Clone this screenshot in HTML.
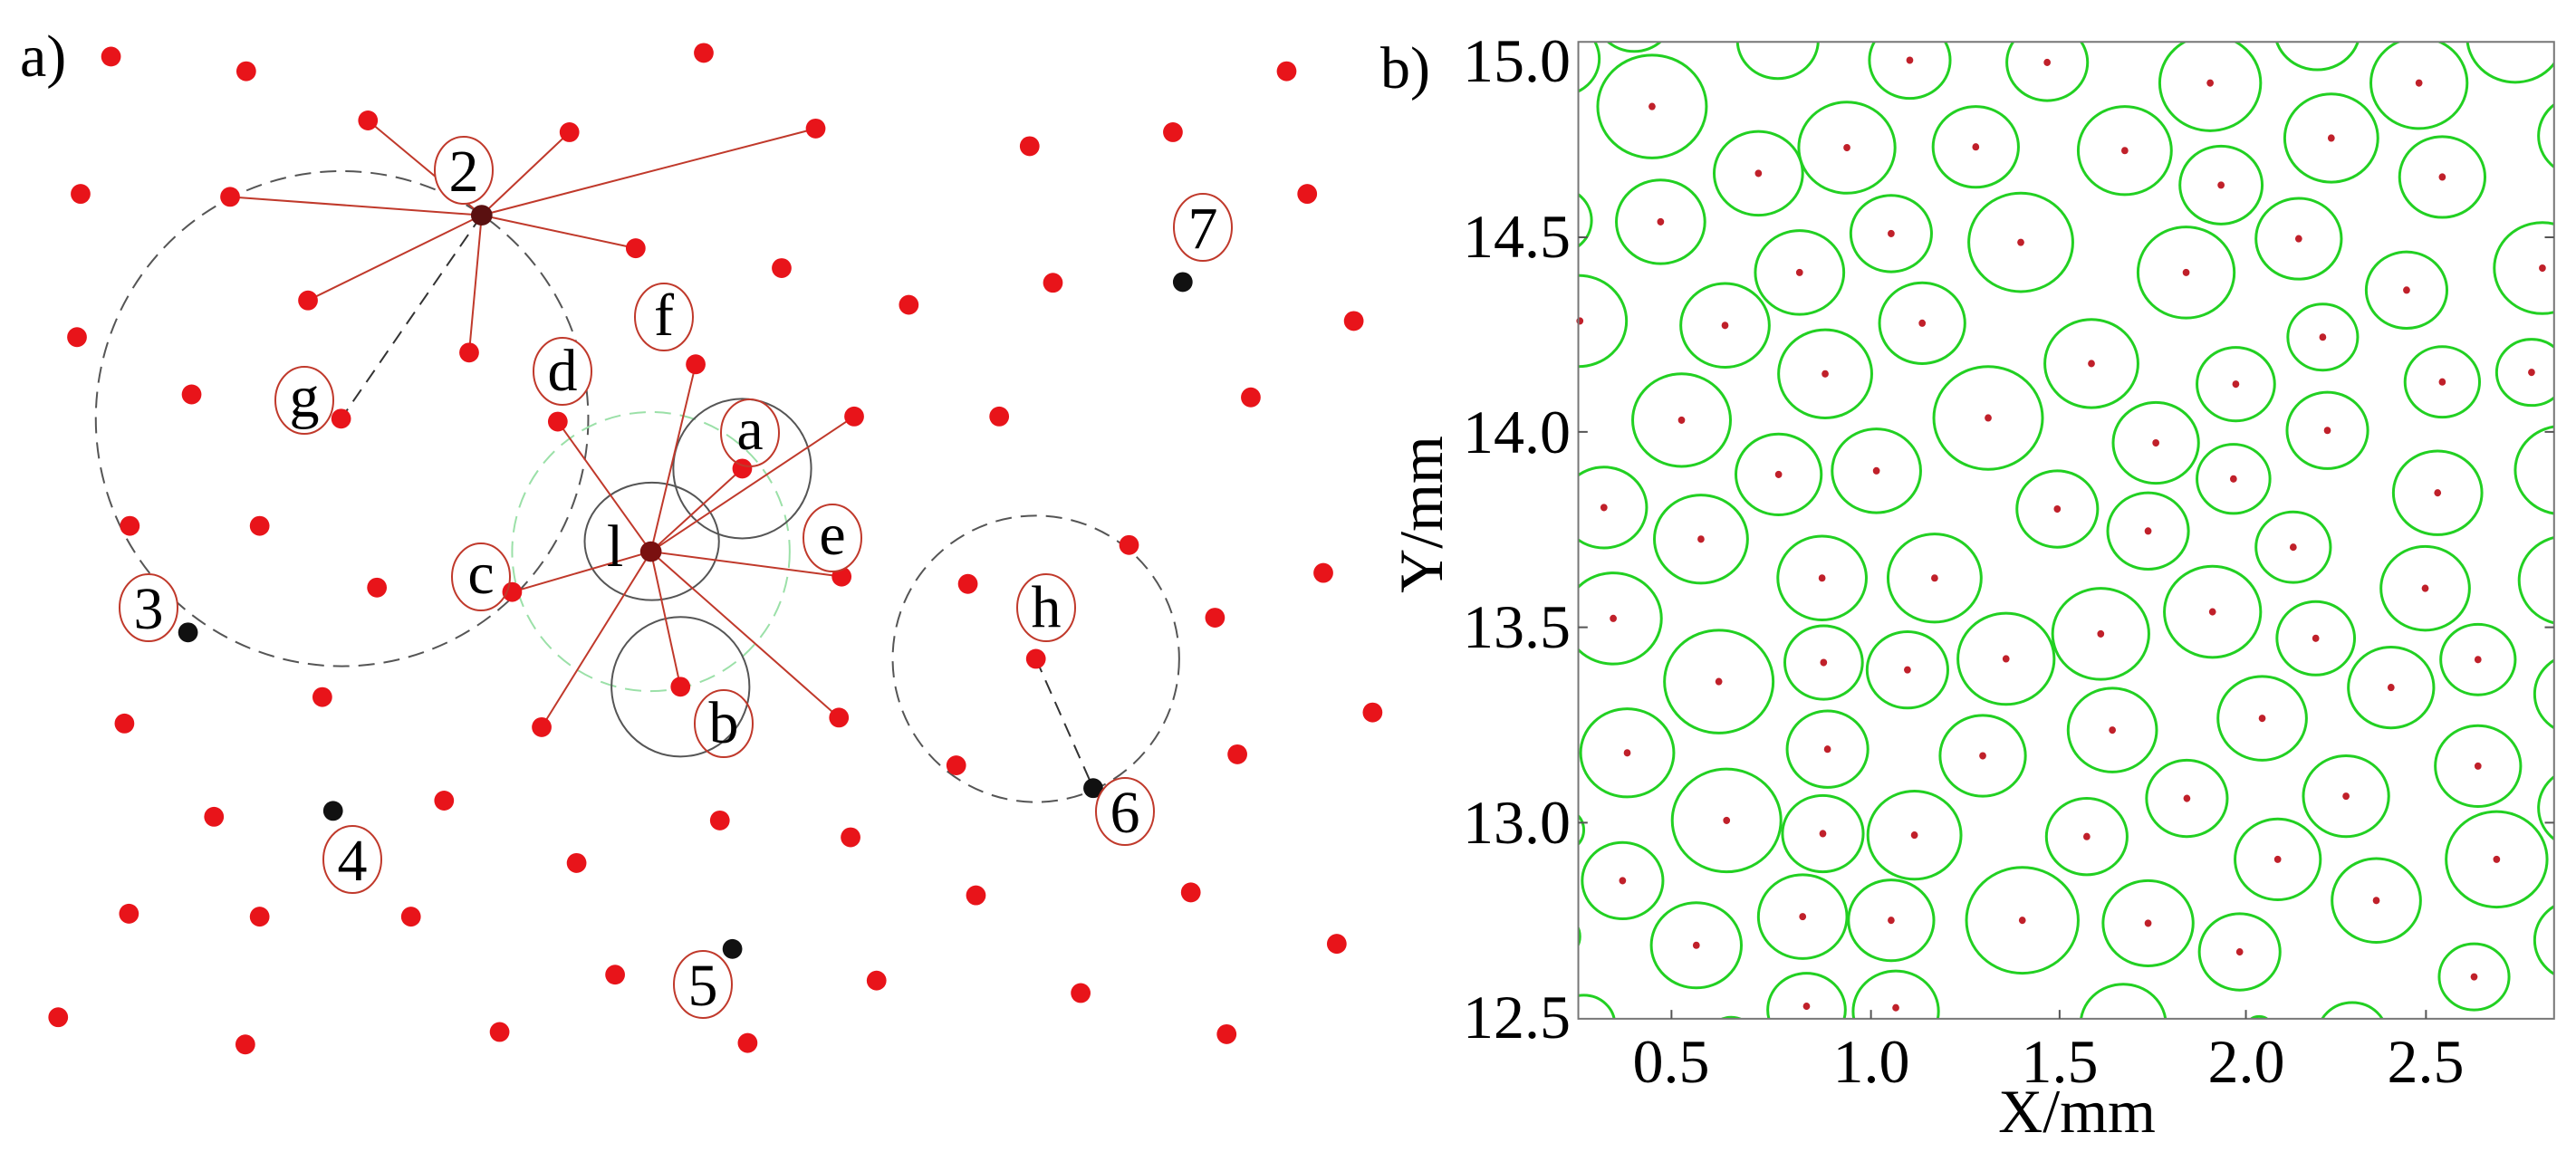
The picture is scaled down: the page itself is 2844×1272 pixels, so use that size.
<!DOCTYPE html>
<html><head><meta charset="utf-8"><style>
html,body{margin:0;padding:0;background:#fff;}
svg{display:block;}
text{font-family:"Liberation Serif",serif;fill:#000;}
</style></head><body>
<svg width="2844" height="1272" viewBox="0 0 2844 1272" xmlns="http://www.w3.org/2000/svg">
<rect width="2844" height="1272" fill="#fff"/>
<g transform="scale(0.9885,0.811)">
 <g fill="none" stroke-width="2">
  <ellipse cx="382" cy="570" rx="275" ry="337" stroke="#555" stroke-dasharray="18 10" vector-effect="non-scaling-stroke"/>
  <ellipse cx="727" cy="751" rx="155" ry="190" stroke="#9be0a8" stroke-dasharray="18 10" vector-effect="non-scaling-stroke"/>
  <ellipse cx="1157" cy="897" rx="160" ry="195" stroke="#555" stroke-dasharray="18 10" vector-effect="non-scaling-stroke"/>
  <ellipse cx="728" cy="737" rx="75" ry="80" stroke="#555" vector-effect="non-scaling-stroke"/>
  <ellipse cx="829" cy="638" rx="77" ry="95" stroke="#555" vector-effect="non-scaling-stroke"/>
  <ellipse cx="760" cy="935" rx="77" ry="95" stroke="#555" vector-effect="non-scaling-stroke"/>
 </g>
 <g stroke="#c0392b" stroke-width="2" fill="none">
  <path vector-effect="non-scaling-stroke" d="M538 293L411 164M538 293L636 180M538 293L911 175M538 293L257 268M538 293L710 338M538 293L344 409M538 293L524 480"/>
  <path vector-effect="non-scaling-stroke" d="M727 751L777 496M727 751L623 574M727 751L954 567M727 751L829 638M727 751L572 806M727 751L940 785M727 751L937 977M727 751L605 990M727 751L760 935"/>
 </g>
 <g stroke="#333" stroke-width="2" stroke-dasharray="16 10" fill="none">
  <path vector-effect="non-scaling-stroke" d="M538 293L381 570M1157 897L1221 1073"/>
 </g>
 <g fill="#e8141a">
  <ellipse cx="124" cy="77" rx="11" ry="13.5"/><ellipse cx="275" cy="97" rx="11" ry="13.5"/><ellipse cx="786" cy="72" rx="11" ry="13.5"/><ellipse cx="1437" cy="97" rx="11" ry="13.5"/>
  <ellipse cx="411" cy="164" rx="11" ry="13.5"/><ellipse cx="636" cy="180" rx="11" ry="13.5"/><ellipse cx="911" cy="175" rx="11" ry="13.5"/><ellipse cx="1150" cy="199" rx="11" ry="13.5"/><ellipse cx="1310" cy="180" rx="11" ry="13.5"/>
  <ellipse cx="90" cy="264" rx="11" ry="13.5"/><ellipse cx="257" cy="268" rx="11" ry="13.5"/><ellipse cx="1460" cy="264" rx="11" ry="13.5"/>
  <ellipse cx="710" cy="338" rx="11" ry="13.5"/><ellipse cx="873" cy="365" rx="11" ry="13.5"/><ellipse cx="1176" cy="385" rx="11" ry="13.5"/><ellipse cx="1512" cy="437" rx="11" ry="13.5"/>
  <ellipse cx="344" cy="409" rx="11" ry="13.5"/><ellipse cx="524" cy="480" rx="11" ry="13.5"/><ellipse cx="1015" cy="415" rx="11" ry="13.5"/>
  <ellipse cx="86" cy="459" rx="11" ry="13.5"/><ellipse cx="777" cy="496" rx="11" ry="13.5"/>
  <ellipse cx="214" cy="537" rx="11" ry="13.5"/><ellipse cx="381" cy="570" rx="11" ry="13.5"/><ellipse cx="623" cy="574" rx="11" ry="13.5"/><ellipse cx="954" cy="567" rx="11" ry="13.5"/><ellipse cx="1116" cy="567" rx="11" ry="13.5"/><ellipse cx="1397" cy="541" rx="11" ry="13.5"/>
  <ellipse cx="829" cy="638" rx="11" ry="13.5"/>
  <ellipse cx="145" cy="716" rx="11" ry="13.5"/><ellipse cx="290" cy="716" rx="11" ry="13.5"/><ellipse cx="572" cy="806" rx="11" ry="13.5"/><ellipse cx="421" cy="800" rx="11" ry="13.5"/><ellipse cx="940" cy="785" rx="11" ry="13.5"/><ellipse cx="1081" cy="795" rx="11" ry="13.5"/><ellipse cx="1261" cy="742" rx="11" ry="13.5"/><ellipse cx="1478" cy="780" rx="11" ry="13.5"/><ellipse cx="1357" cy="841" rx="11" ry="13.5"/>
  <ellipse cx="1157" cy="897" rx="11" ry="13.5"/><ellipse cx="760" cy="935" rx="11" ry="13.5"/><ellipse cx="360" cy="949" rx="11" ry="13.5"/><ellipse cx="139" cy="985" rx="11" ry="13.5"/><ellipse cx="605" cy="990" rx="11" ry="13.5"/><ellipse cx="937" cy="977" rx="11" ry="13.5"/><ellipse cx="1068" cy="1042" rx="11" ry="13.5"/><ellipse cx="1533" cy="970" rx="11" ry="13.5"/><ellipse cx="1382" cy="1027" rx="11" ry="13.5"/>
  <ellipse cx="239" cy="1112" rx="11" ry="13.5"/><ellipse cx="496" cy="1090" rx="11" ry="13.5"/><ellipse cx="804" cy="1117" rx="11" ry="13.5"/><ellipse cx="950" cy="1140" rx="11" ry="13.5"/><ellipse cx="644" cy="1175" rx="11" ry="13.5"/>
  <ellipse cx="144" cy="1244" rx="11" ry="13.5"/><ellipse cx="290" cy="1248" rx="11" ry="13.5"/><ellipse cx="459" cy="1248" rx="11" ry="13.5"/><ellipse cx="1090" cy="1219" rx="11" ry="13.5"/><ellipse cx="1330" cy="1215" rx="11" ry="13.5"/>
  <ellipse cx="687" cy="1327" rx="11" ry="13.5"/><ellipse cx="979" cy="1335" rx="11" ry="13.5"/><ellipse cx="1207" cy="1352" rx="11" ry="13.5"/><ellipse cx="1493" cy="1285" rx="11" ry="13.5"/>
  <ellipse cx="65" cy="1385" rx="11" ry="13.5"/><ellipse cx="274" cy="1422" rx="11" ry="13.5"/><ellipse cx="558" cy="1405" rx="11" ry="13.5"/><ellipse cx="835" cy="1420" rx="11" ry="13.5"/><ellipse cx="1370" cy="1408" rx="11" ry="13.5"/>
 </g>
 <g fill="#111">
  <ellipse cx="210" cy="861" rx="11" ry="13.5"/><ellipse cx="372" cy="1104" rx="11" ry="13.5"/><ellipse cx="818" cy="1292" rx="11" ry="13.5"/><ellipse cx="1221" cy="1073" rx="11" ry="13.5"/><ellipse cx="1321" cy="384" rx="11" ry="13.5"/>
  <ellipse cx="538" cy="293" rx="12" ry="14" fill="#5a1010"/><ellipse cx="727" cy="751" rx="12" ry="14" fill="#7a1010"/>
 </g>
</g>
<g fill="#fff" stroke="#c0392b" stroke-width="2">
 <ellipse cx="512" cy="188" rx="32" ry="37"/><ellipse cx="1328" cy="251" rx="32" ry="37"/><ellipse cx="733" cy="350" rx="32" ry="37"/><ellipse cx="621" cy="410" rx="32" ry="37"/><ellipse cx="336" cy="442" rx="32" ry="37" fill="none"/><ellipse cx="828" cy="478" rx="32" ry="37" fill="none"/><ellipse cx="919" cy="594" rx="32" ry="37"/><ellipse cx="531" cy="637" rx="32" ry="37" fill="none"/><ellipse cx="164" cy="671" rx="32" ry="37"/><ellipse cx="1155" cy="671" rx="32" ry="37"/><ellipse cx="799" cy="799" rx="32" ry="37" fill="none"/><ellipse cx="1242" cy="896" rx="32" ry="37" fill="none"/><ellipse cx="389" cy="949" rx="32" ry="37"/><ellipse cx="776" cy="1087" rx="32" ry="37"/>
</g>
<g font-size="66" text-anchor="middle">
 <text x="512" y="211">2</text><text x="1328" y="274">7</text><text x="733" y="370">f</text><text x="621" y="431">d</text><text x="336" y="460">g</text><text x="828" y="496">a</text><text x="919" y="612">e</text><text x="679" y="625">l</text><text x="531" y="655">c</text><text x="164" y="694">3</text><text x="1155" y="692">h</text><text x="799" y="820">b</text><text x="1242" y="919">6</text><text x="389" y="972">4</text><text x="776" y="1110">5</text>
</g>
<text x="22" y="84" font-size="66">a)</text>

<defs><clipPath id="cb"><rect x="283" y="57" width="1257" height="1330"/></clipPath></defs>
<g transform="translate(1500,0) scale(0.857,0.811)">
 <g clip-path="url(#cb)" fill="none" stroke="#22d022" stroke-width="3">
  <circle vector-effect="non-scaling-stroke" cx="260" cy="80" r="50"/><circle vector-effect="non-scaling-stroke" cx="355" cy="20" r="50"/><circle vector-effect="non-scaling-stroke" cx="540" cy="55" r="52"/><circle vector-effect="non-scaling-stroke" cx="710" cy="82" r="52"/><circle vector-effect="non-scaling-stroke" cx="887" cy="85" r="52"/><circle vector-effect="non-scaling-stroke" cx="1097" cy="113" r="65"/><circle vector-effect="non-scaling-stroke" cx="1235" cy="40" r="55"/><circle vector-effect="non-scaling-stroke" cx="1366" cy="113" r="62"/><circle vector-effect="non-scaling-stroke" cx="1490" cy="50" r="62"/>
  <circle vector-effect="non-scaling-stroke" cx="378" cy="145" r="70"/><circle vector-effect="non-scaling-stroke" cx="515" cy="236" r="57"/><circle vector-effect="non-scaling-stroke" cx="629" cy="201" r="62"/><circle vector-effect="non-scaling-stroke" cx="795" cy="200" r="55"/><circle vector-effect="non-scaling-stroke" cx="987" cy="205" r="60"/><circle vector-effect="non-scaling-stroke" cx="1111" cy="252" r="53"/><circle vector-effect="non-scaling-stroke" cx="1253" cy="188" r="60"/><circle vector-effect="non-scaling-stroke" cx="1396" cy="241" r="55"/><circle vector-effect="non-scaling-stroke" cx="1575" cy="185" r="55"/>
  <circle vector-effect="non-scaling-stroke" cx="255" cy="300" r="45"/><circle vector-effect="non-scaling-stroke" cx="389" cy="302" r="57"/><circle vector-effect="non-scaling-stroke" cx="686" cy="318" r="52"/><circle vector-effect="non-scaling-stroke" cx="853" cy="330" r="67"/><circle vector-effect="non-scaling-stroke" cx="1066" cy="371" r="62"/><circle vector-effect="non-scaling-stroke" cx="1211" cy="325" r="55"/><circle vector-effect="non-scaling-stroke" cx="1350" cy="395" r="52"/><circle vector-effect="non-scaling-stroke" cx="568" cy="371" r="57"/><circle vector-effect="non-scaling-stroke" cx="1525" cy="365" r="62"/>
  <circle vector-effect="non-scaling-stroke" cx="283" cy="437" r="62"/><circle vector-effect="non-scaling-stroke" cx="472" cy="443" r="57"/><circle vector-effect="non-scaling-stroke" cx="726" cy="440" r="55"/><circle vector-effect="non-scaling-stroke" cx="944" cy="495" r="60"/><circle vector-effect="non-scaling-stroke" cx="1242" cy="459" r="45"/><circle vector-effect="non-scaling-stroke" cx="1130" cy="523" r="50"/><circle vector-effect="non-scaling-stroke" cx="601" cy="509" r="60"/><circle vector-effect="non-scaling-stroke" cx="811" cy="569" r="70"/><circle vector-effect="non-scaling-stroke" cx="1396" cy="520" r="48"/><circle vector-effect="non-scaling-stroke" cx="1511" cy="507" r="45"/>
  <circle vector-effect="non-scaling-stroke" cx="416" cy="572" r="63"/><circle vector-effect="non-scaling-stroke" cx="1248" cy="586" r="52"/><circle vector-effect="non-scaling-stroke" cx="1027" cy="603" r="55"/><circle vector-effect="non-scaling-stroke" cx="541" cy="646" r="55"/><circle vector-effect="non-scaling-stroke" cx="667" cy="641" r="57"/><circle vector-effect="non-scaling-stroke" cx="1127" cy="652" r="47"/><circle vector-effect="non-scaling-stroke" cx="1390" cy="671" r="57"/><circle vector-effect="non-scaling-stroke" cx="1550" cy="640" r="60"/>
  <circle vector-effect="non-scaling-stroke" cx="316" cy="691" r="55"/><circle vector-effect="non-scaling-stroke" cx="441" cy="734" r="60"/><circle vector-effect="non-scaling-stroke" cx="900" cy="693" r="52"/><circle vector-effect="non-scaling-stroke" cx="1017" cy="723" r="52"/><circle vector-effect="non-scaling-stroke" cx="1204" cy="745" r="48"/><circle vector-effect="non-scaling-stroke" cx="597" cy="787" r="57"/><circle vector-effect="non-scaling-stroke" cx="742" cy="787" r="60"/><circle vector-effect="non-scaling-stroke" cx="1374" cy="801" r="57"/><circle vector-effect="non-scaling-stroke" cx="1555" cy="790" r="60"/>
  <circle vector-effect="non-scaling-stroke" cx="328" cy="842" r="62"/><circle vector-effect="non-scaling-stroke" cx="1100" cy="833" r="62"/><circle vector-effect="non-scaling-stroke" cx="956" cy="863" r="62"/><circle vector-effect="non-scaling-stroke" cx="1233" cy="869" r="50"/><circle vector-effect="non-scaling-stroke" cx="464" cy="928" r="70"/><circle vector-effect="non-scaling-stroke" cx="599" cy="902" r="50"/><circle vector-effect="non-scaling-stroke" cx="707" cy="912" r="52"/><circle vector-effect="non-scaling-stroke" cx="834" cy="897" r="62"/><circle vector-effect="non-scaling-stroke" cx="1330" cy="936" r="55"/><circle vector-effect="non-scaling-stroke" cx="1442" cy="898" r="48"/><circle vector-effect="non-scaling-stroke" cx="1570" cy="945" r="55"/>
  <circle vector-effect="non-scaling-stroke" cx="1164" cy="978" r="57"/><circle vector-effect="non-scaling-stroke" cx="604" cy="1020" r="52"/><circle vector-effect="non-scaling-stroke" cx="971" cy="994" r="57"/><circle vector-effect="non-scaling-stroke" cx="346" cy="1025" r="60"/><circle vector-effect="non-scaling-stroke" cx="804" cy="1029" r="55"/><circle vector-effect="non-scaling-stroke" cx="1442" cy="1043" r="55"/><circle vector-effect="non-scaling-stroke" cx="1575" cy="1100" r="55"/>
  <circle vector-effect="non-scaling-stroke" cx="1067" cy="1087" r="52"/><circle vector-effect="non-scaling-stroke" cx="1272" cy="1084" r="55"/><circle vector-effect="non-scaling-stroke" cx="474" cy="1117" r="70"/><circle vector-effect="non-scaling-stroke" cx="598" cy="1135" r="52"/><circle vector-effect="non-scaling-stroke" cx="716" cy="1137" r="60"/><circle vector-effect="non-scaling-stroke" cx="938" cy="1139" r="52"/><circle vector-effect="non-scaling-stroke" cx="1184" cy="1170" r="55"/><circle vector-effect="non-scaling-stroke" cx="1466" cy="1170" r="65"/><circle vector-effect="non-scaling-stroke" cx="260" cy="1130" r="30"/>
  <circle vector-effect="non-scaling-stroke" cx="340" cy="1199" r="52"/><circle vector-effect="non-scaling-stroke" cx="1311" cy="1226" r="57"/><circle vector-effect="non-scaling-stroke" cx="572" cy="1248" r="57"/><circle vector-effect="non-scaling-stroke" cx="686" cy="1253" r="55"/><circle vector-effect="non-scaling-stroke" cx="855" cy="1253" r="72"/><circle vector-effect="non-scaling-stroke" cx="1017" cy="1257" r="58"/><circle vector-effect="non-scaling-stroke" cx="1570" cy="1280" r="55"/>
  <circle vector-effect="non-scaling-stroke" cx="435" cy="1287" r="58"/><circle vector-effect="non-scaling-stroke" cx="1135" cy="1296" r="52"/><circle vector-effect="non-scaling-stroke" cx="1437" cy="1330" r="45"/><circle vector-effect="non-scaling-stroke" cx="255" cy="1275" r="30"/>
  <circle vector-effect="non-scaling-stroke" cx="577" cy="1375" r="50"/><circle vector-effect="non-scaling-stroke" cx="692" cy="1377" r="55"/><circle vector-effect="non-scaling-stroke" cx="985" cy="1395" r="55"/><circle vector-effect="non-scaling-stroke" cx="1160" cy="1402" r="18"/><circle vector-effect="non-scaling-stroke" cx="1280" cy="1410" r="45"/><circle vector-effect="non-scaling-stroke" cx="290" cy="1395" r="40"/><circle vector-effect="non-scaling-stroke" cx="480" cy="1415" r="30"/>
 </g>
 <g fill="#c0202a">
  <ellipse cx="710" cy="82" rx="4.5" ry="5"/><ellipse cx="887" cy="85" rx="4.5" ry="5"/><ellipse cx="1097" cy="113" rx="4.5" ry="5"/><ellipse cx="1366" cy="113" rx="4.5" ry="5"/>
  <ellipse cx="378" cy="145" rx="4.5" ry="5"/><ellipse cx="515" cy="236" rx="4.5" ry="5"/><ellipse cx="629" cy="201" rx="4.5" ry="5"/><ellipse cx="795" cy="200" rx="4.5" ry="5"/><ellipse cx="987" cy="205" rx="4.5" ry="5"/><ellipse cx="1111" cy="252" rx="4.5" ry="5"/><ellipse cx="1253" cy="188" rx="4.5" ry="5"/><ellipse cx="1396" cy="241" rx="4.5" ry="5"/>
  <ellipse cx="389" cy="302" rx="4.5" ry="5"/><ellipse cx="686" cy="318" rx="4.5" ry="5"/><ellipse cx="853" cy="330" rx="4.5" ry="5"/><ellipse cx="1066" cy="371" rx="4.5" ry="5"/><ellipse cx="1211" cy="325" rx="4.5" ry="5"/><ellipse cx="1350" cy="395" rx="4.5" ry="5"/><ellipse cx="568" cy="371" rx="4.5" ry="5"/><ellipse cx="1525" cy="365" rx="4.5" ry="5"/>
  <ellipse cx="285" cy="437" rx="4.5" ry="5"/><ellipse cx="472" cy="443" rx="4.5" ry="5"/><ellipse cx="726" cy="440" rx="4.5" ry="5"/><ellipse cx="944" cy="495" rx="4.5" ry="5"/><ellipse cx="1242" cy="459" rx="4.5" ry="5"/><ellipse cx="1130" cy="523" rx="4.5" ry="5"/><ellipse cx="601" cy="509" rx="4.5" ry="5"/><ellipse cx="811" cy="569" rx="4.5" ry="5"/><ellipse cx="1396" cy="520" rx="4.5" ry="5"/><ellipse cx="1511" cy="507" rx="4.5" ry="5"/>
  <ellipse cx="416" cy="572" rx="4.5" ry="5"/><ellipse cx="1248" cy="586" rx="4.5" ry="5"/><ellipse cx="1027" cy="603" rx="4.5" ry="5"/><ellipse cx="541" cy="646" rx="4.5" ry="5"/><ellipse cx="667" cy="641" rx="4.5" ry="5"/><ellipse cx="1127" cy="652" rx="4.5" ry="5"/><ellipse cx="1390" cy="671" rx="4.5" ry="5"/>
  <ellipse cx="316" cy="691" rx="4.5" ry="5"/><ellipse cx="441" cy="734" rx="4.5" ry="5"/><ellipse cx="900" cy="693" rx="4.5" ry="5"/><ellipse cx="1017" cy="723" rx="4.5" ry="5"/><ellipse cx="1204" cy="745" rx="4.5" ry="5"/><ellipse cx="597" cy="787" rx="4.5" ry="5"/><ellipse cx="742" cy="787" rx="4.5" ry="5"/><ellipse cx="1374" cy="801" rx="4.5" ry="5"/>
  <ellipse cx="328" cy="842" rx="4.5" ry="5"/><ellipse cx="1100" cy="833" rx="4.5" ry="5"/><ellipse cx="956" cy="863" rx="4.5" ry="5"/><ellipse cx="1233" cy="869" rx="4.5" ry="5"/><ellipse cx="464" cy="928" rx="4.5" ry="5"/><ellipse cx="599" cy="902" rx="4.5" ry="5"/><ellipse cx="707" cy="912" rx="4.5" ry="5"/><ellipse cx="834" cy="897" rx="4.5" ry="5"/><ellipse cx="1330" cy="936" rx="4.5" ry="5"/><ellipse cx="1442" cy="898" rx="4.5" ry="5"/>
  <ellipse cx="1164" cy="978" rx="4.5" ry="5"/><ellipse cx="604" cy="1020" rx="4.5" ry="5"/><ellipse cx="971" cy="994" rx="4.5" ry="5"/><ellipse cx="346" cy="1025" rx="4.5" ry="5"/><ellipse cx="804" cy="1029" rx="4.5" ry="5"/><ellipse cx="1442" cy="1043" rx="4.5" ry="5"/>
  <ellipse cx="1067" cy="1087" rx="4.5" ry="5"/><ellipse cx="1272" cy="1084" rx="4.5" ry="5"/><ellipse cx="474" cy="1117" rx="4.5" ry="5"/><ellipse cx="598" cy="1135" rx="4.5" ry="5"/><ellipse cx="716" cy="1137" rx="4.5" ry="5"/><ellipse cx="938" cy="1139" rx="4.5" ry="5"/><ellipse cx="1184" cy="1170" rx="4.5" ry="5"/><ellipse cx="1466" cy="1170" rx="4.5" ry="5"/>
  <ellipse cx="340" cy="1199" rx="4.5" ry="5"/><ellipse cx="1311" cy="1226" rx="4.5" ry="5"/><ellipse cx="572" cy="1248" rx="4.5" ry="5"/><ellipse cx="686" cy="1253" rx="4.5" ry="5"/><ellipse cx="855" cy="1253" rx="4.5" ry="5"/><ellipse cx="1017" cy="1257" rx="4.5" ry="5"/>
  <ellipse cx="435" cy="1287" rx="4.5" ry="5"/><ellipse cx="1135" cy="1296" rx="4.5" ry="5"/><ellipse cx="1437" cy="1330" rx="4.5" ry="5"/><ellipse cx="577" cy="1370" rx="4.5" ry="5"/><ellipse cx="692" cy="1372" rx="4.5" ry="5"/>
 </g>
 <rect x="283" y="57" width="1257" height="1330" fill="none" stroke="#777" stroke-width="2" vector-effect="non-scaling-stroke"/>
 <path stroke="#555" stroke-width="2" vector-effect="non-scaling-stroke" d="M283 323h12M283 588h12M283 854h12M283 1120h12M1540 323h-12M1540 588h-12M1540 854h-12M1540 1120h-12M403 1387v-12M660 1387v-12M903 1387v-12M1143 1387v-12M1375 1387v-12"/>
</g>
<text x="1524" y="97" font-size="66">b)</text>
<g font-size="68" text-anchor="end">
 <text x="1734" y="90">15.0</text><text x="1734" y="284">14.5</text><text x="1734" y="500">14.0</text><text x="1734" y="715">13.5</text><text x="1734" y="931">13.0</text><text x="1734" y="1146">12.5</text>
</g>
<g font-size="68" text-anchor="middle">
 <text x="1845" y="1195">0.5</text><text x="2066" y="1195">1.0</text><text x="2274" y="1195">1.5</text><text x="2480" y="1195">2.0</text><text x="2678" y="1195">2.5</text>
 <text x="2293" y="1250">X/mm</text>
 <text transform="translate(1592,568) rotate(-90)" x="0" y="0">Y/mm</text>
</g>
</svg>
</body></html>
